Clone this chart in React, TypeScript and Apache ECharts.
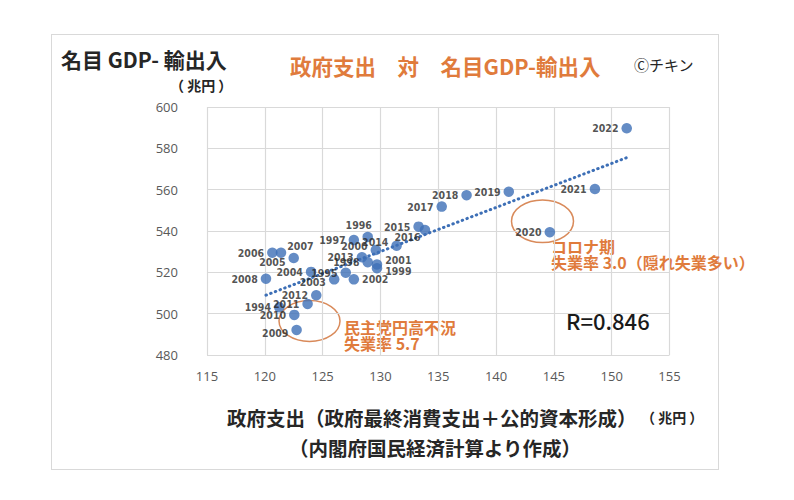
import * as echarts from "echarts";
import React, { useEffect, useRef } from "react";

// 年 / 政府支出(兆円) / 名目GDP-輸出入(兆円)
const years = [
  "1994", "1995", "1996", "1997", "1998", "1999", "2000", "2001", "2002", "2003",
  "2004", "2005", "2006", "2007", "2008", "2009", "2010", "2011", "2012", "2013",
  "2014", "2015", "2016", "2017", "2018", "2019", "2020", "2021", "2022",
];
const govSpending = [
  121.25, 127.0, 128.9, 127.7, 128.9, 129.7, 129.6, 129.7, 127.7, 126.0,
  124.0, 122.5, 120.65, 121.4, 120.1, 122.75, 122.55, 123.7, 124.45, 128.4,
  131.4, 133.3, 133.85, 135.3, 137.45, 141.1, 144.65, 148.55, 151.3,
];
const gdpNet = [
  503.1, 519.8, 537.1, 535.6, 524.9, 522.0, 530.8, 523.8, 516.6, 516.6,
  520.2, 526.9, 529.5, 529.5, 516.9, 492.1, 499.4, 504.7, 508.9, 527.3,
  532.9, 542.1, 540.5, 551.8, 557.3, 559.0, 539.4, 560.3, 589.7,
];

// ラベル位置 (年ごとの例外のみ)
const labelPlace: Record<string, { position: string; offset: [number, number] }> = {
  "2007": { position: "right", offset: [-2, -7] },
  "2005": { position: "left", offset: [0, 4] },
  "2003": { position: "left", offset: [0, 3] },
  "2002": { position: "right", offset: [0, 0] },
  "1996": { position: "top", offset: [-9, 2] },
  "2000": { position: "left", offset: [0, -4] },
  "2001": { position: "right", offset: [0, -4] },
  "1999": { position: "right", offset: [0, 3] },
  "2014": { position: "left", offset: [0, -4] },
  "2016": { position: "left", offset: [4, 7] },
  "2009": { position: "left", offset: [0, 3] },
};

const BLUE = "#3d6fb6";
const ORANGE = "#e07b3c";
const JP = '"Noto Sans CJK JP", "Noto Sans", sans-serif';

// 近似直線 (最小二乗)
const fitLine = () => {
  const n = govSpending.length;
  const mx = govSpending.reduce((a, b) => a + b, 0) / n;
  const my = gdpNet.reduce((a, b) => a + b, 0) / n;
  let sxy = 0, sxx = 0;
  govSpending.forEach((x, i) => {
    sxy += (x - mx) * (gdpNet[i] - my);
    sxx += (x - mx) * (x - mx);
  });
  const k = sxy / sxx;
  const b = my - k * mx;
  const x0 = Math.min(...govSpending);
  const x1 = Math.max(...govSpending);
  return [[x0, k * x0 + b], [x1, k * x1 + b]];
};

const GovVsGdpChart: React.FC = () => {
  const chartRef = useRef<HTMLDivElement>(null);

  useEffect(() => {
    document.body.style.margin = "0";
    if (!chartRef.current) return;
    const chart = echarts.init(chartRef.current, undefined, { renderer: "svg" });

    const text = (x: number, y: number, t: string, size: number, color: string, weight = "bold") => ({
      type: "text",
      x,
      y,
      style: {
        text: t,
        fill: color,
        font: `${weight} ${size}px ${JP}`,
        align: "left",
        verticalAlign: "middle",
      },
    });

    chart.setOption({
      animation: false,
      grid: { left: 207, right: 124.5, top: 107, bottom: 145 },
      xAxis: {
        type: "value",
        min: 115,
        max: 155,
        interval: 5,
        axisLine: { show: false },
        axisTick: { show: false },
        axisLabel: { color: "#595959", fontSize: 13, fontFamily: "Open Sans", margin: 14 },
        splitLine: { lineStyle: { color: "#d9d9d9", width: 1.2 } },
      },
      yAxis: {
        type: "value",
        min: 480,
        max: 600,
        interval: 20,
        axisLine: { show: false },
        axisTick: { show: false },
        axisLabel: { color: "#595959", fontSize: 13, fontFamily: "Open Sans", margin: 29 },
        splitLine: { lineStyle: { color: "#d9d9d9", width: 1.2 } },
      },
      series: [
        {
          type: "line",
          data: fitLine(),
          symbol: "none",
          lineStyle: { color: BLUE, width: 3, type: [0.5, 4.5], cap: "round" },
          z: 1,
        },
        {
          type: "scatter",
          symbolSize: 10.5,
          itemStyle: { color: BLUE },
          z: 3,
          label: {
            show: true,
            position: "left",
            distance: 3,
            formatter: "{b}",
            fontSize: 10.5,
            fontWeight: "bold",
            fontFamily: '"Liberation Sans Narrow", "DejaVu Sans Condensed", sans-serif',
            color: "#262626",
          },
          data: years.map((yr, i) => ({
            name: yr,
            value: [govSpending[i], gdpNet[i]],
            label: labelPlace[yr] ?? {},
          })),
        },
      ],
      graphic: [
        text(61, 59, "名目 GDP- 輸出入", 21, "#262626"),
        text(170, 85, "（ 兆円 ）", 14, "#262626"),
        text(290, 65, "政府支出　対　名目GDP-輸出入", 21.5, ORANGE),
        text(634, 64, "Ⓒチキン", 15, "#262626", "normal"),
        text(227, 417, "政府支出（政府最終消費支出＋公的資本形成）", 19.5, "#262626"),
        text(641, 417, "（ 兆円 ）", 14, "#262626"),
        text(289, 447, "（内閣府国民経済計算より作成）", 19.5, "#262626"),
        text(344, 327, "民主党円高不況", 16, ORANGE),
        text(344, 343, "失業率 5.7", 16, ORANGE),
        text(551, 246, "コロナ期", 16, ORANGE),
        text(551, 262, "失業率 3.0（隠れ失業多い）", 16, ORANGE),
        text(566, 320, "R=0.846", 22, "#1a1a1a", "500"),
        {
          type: "ellipse",
          shape: { cx: 309.5, cy: 321, rx: 30.5, ry: 20.5 },
          style: { fill: "none", stroke: "#d98a5a", lineWidth: 1.5 },
        },
        {
          type: "ellipse",
          shape: { cx: 542.5, cy: 221.3, rx: 31, ry: 21.3 },
          style: { fill: "none", stroke: "#d98a5a", lineWidth: 1.5 },
        },
      ],
    });

    return () => chart.dispose();
  }, []);

  return (
    <div style={{ position: "relative", width: 794, height: 500, background: "#fff" }}>
      <div
        style={{
          position: "absolute",
          left: 51,
          top: 34,
          width: 666,
          height: 434,
          border: "1.5px solid #d9d9d9",
        }}
      />
      <div ref={chartRef} style={{ position: "absolute", left: 0, top: 0, width: 794, height: 500 }} />
    </div>
  );
};

export default function App() {
  return <GovVsGdpChart />;
}
